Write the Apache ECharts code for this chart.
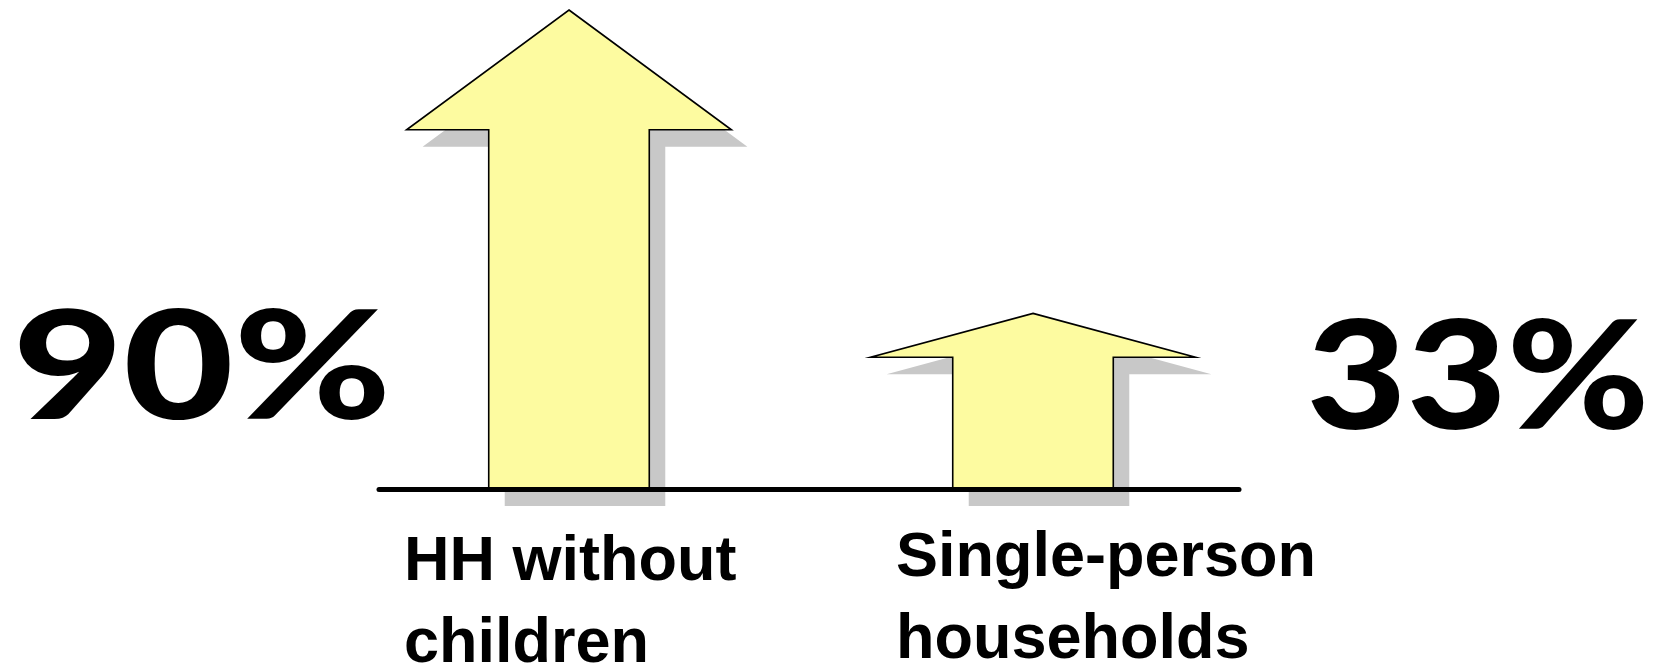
<!DOCTYPE html>
<html>
<head>
<meta charset="utf-8">
<script src="https://cdn.jsdelivr.net/npm/echarts@6/dist/echarts.min.js"></script>
<style>
  html, body { margin: 0; padding: 0; background: #fff; }
  #chart { width: 1656px; height: 664px; }
</style>
</head>
<body>
<div id="chart"></div>
<script>
// data
const categories = ['HH without\nchildren', 'Single-person\nhouseholds'];
const values = [90, 33];

const chart = echarts.init(document.getElementById('chart'));

// arrow drawn from the value scale: head takes the top quarter of the height
function renderArrow(params, api) {
  const base = api.coord([api.value(0), 0]);
  const top = api.coord([api.value(0), api.value(1)]);
  const band = api.size([1, 0])[0];
  const shaftHalf = band * 0.173;
  const headHalf = band * 0.35;
  const headY = top[1] + (base[1] - top[1]) * 0.25;
  const cx = base[0];
  const pts = [
    [cx, top[1]],
    [cx + headHalf, headY],
    [cx + shaftHalf, headY],
    [cx + shaftHalf, base[1]],
    [cx - shaftHalf, base[1]],
    [cx - shaftHalf, headY],
    [cx - headHalf, headY]
  ];
  const shadow = pts.map(p => [p[0] + 16, p[1] + 17]);
  return {
    type: 'group',
    children: [
      { type: 'polygon', shape: { points: shadow }, style: { fill: '#c8c8c8' } },
      { type: 'polygon', shape: { points: pts }, style: { fill: '#fdfba0', stroke: '#000', lineWidth: 1.6 } }
    ]
  };
}

const pctFont = '900 150px Lato, Inter, Roboto, sans-serif';
const catFont = 'bold 63px "Liberation Sans", Arial, sans-serif';

const option = {
  animation: false,
  backgroundColor: '#fff',
  grid: [
    { left: 337, right: 391, top: 10, bottom: 175 },
    { left: 379, right: 417, top: 10, bottom: 175 }
  ],
  xAxis: [
    { type: 'category', gridIndex: 0, data: categories, show: false },
    {
      type: 'value', gridIndex: 1, min: 0, max: 1, z: 10,
      axisLine: { show: true, lineStyle: { color: '#000', width: 5 } },
      axisTick: { show: false }, axisLabel: { show: false }, splitLine: { show: false }
    }
  ],
  yAxis: [
    { type: 'value', gridIndex: 0, min: 0, max: 90, show: false },
    { type: 'value', gridIndex: 1, min: 0, max: 1, show: false }
  ],
  series: [{
    type: 'custom',
    xAxisIndex: 0,
    yAxisIndex: 0,
    renderItem: renderArrow,
    data: values.map((v, i) => [i, v]),
    encode: { x: 0, y: 1 }
  }],
  graphic: [
    { type: 'text', x: 202, y: 371, scaleX: 1.27, style: { text: values[0] + '%', font: pctFont, fill: '#000', textAlign: 'center', textVerticalAlign: 'middle' } },
    { type: 'text', x: 1478, y: 381, scaleX: 1.15, style: { text: values[1] + '%', font: pctFont, fill: '#000', textAlign: 'center', textVerticalAlign: 'middle' } },
    { type: 'text', x: 404, y: 522, style: { text: categories[0], font: catFont, lineHeight: 82, fill: '#000', textAlign: 'left', textVerticalAlign: 'top' } },
    { type: 'text', x: 896, y: 518, style: { text: categories[1], font: catFont, lineHeight: 82, fill: '#000', textAlign: 'left', textVerticalAlign: 'top' } }
  ]
};

chart.setOption(option);
window.addEventListener('resize', () => chart.resize());
</script>
</body>
</html>
